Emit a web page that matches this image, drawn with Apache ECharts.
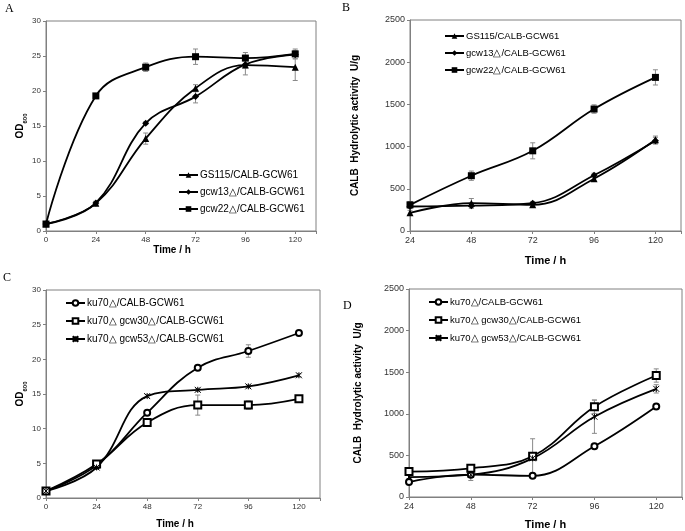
<!DOCTYPE html>
<html><head><meta charset="utf-8">
<script src="https://cdn.jsdelivr.net/npm/echarts@6/dist/echarts.min.js"></script>
<style>html,body{margin:0;padding:0;background:#fff}#c{width:685px;height:531px}</style>
</head><body><div id="c"></div>
<script>
// ---- data ----
const hoursOD = [0, 24, 48, 72, 96, 120];
const hoursAct = [24, 48, 72, 96, 120];
const namesAB = ['GS115/CALB-GCW61', 'gcw13△/CALB-GCW61', 'gcw22△/CALB-GCW61'];
const namesCD = ['ku70△/CALB-GCW61', 'ku70△ gcw30△/CALB-GCW61', 'ku70△ gcw53△/CALB-GCW61'];
const xTicks = [0, 24, 48, 72, 96, 120];

// Panel A (OD600)
const gs115OD = [1.0, 3.95, 13.2, 20.4, 23.7, 23.4];
const gs115ODErr = [0, 0.3, 0.8, 0.5, 1.4, 1.9];
const gcw13OD = [1.0, 4.0, 15.4, 19.2, 23.8, 25.2];
const gcw13ODErr = [0, 0.2, 0.2, 0.9, 0.5, 0.6];
const gcw22OD = [1.0, 19.3, 23.4, 24.9, 24.7, 25.3];
const gcw22ODErr = [0, 0.2, 0.6, 1.1, 0.8, 0.7];

// Panel B (activity U/g)
const gs115Act = [215, 330, 310, 620, 1080];
const gs115ActErr = [30, 55, 20, 30, 45];
const gcw13Act = [290, 300, 330, 660, 1070];
const gcw13ActErr = [20, 30, 20, 25, 40];
const gcw22Act = [310, 655, 950, 1445, 1820];
const gcw22ActErr = [40, 55, 95, 50, 90];

// Panel C (OD600)
const ku70OD = [1.0, 4.7, 12.3, 18.8, 21.2, 23.8];
const ku70ODErr = [0, 0.2, 0.3, 0.3, 0.9, 0.2];
const gcw30OD = [1.0, 4.9, 10.9, 13.4, 13.4, 14.3];
const gcw30ODErr = [0, 0.2, 0.2, 1.45, 0.6, 0.3];
const gcw53OD = [1.0, 4.4, 14.7, 15.6, 16.1, 17.7];
const gcw53ODErr = [0, 0.2, 0.2, 0.2, 0.2, 0.2];

// Panel D (activity U/g)
const ku70Act = [180, 268, 255, 610, 1088];
const ku70ActErr = [20, 20, 20, 20, 20];
const gcw30Act = [305, 345, 490, 1085, 1460];
const gcw30ActErr = [20, 20, 30, 80, 80];
const gcw53Act = [240, 268, 465, 965, 1300];
const gcw53ActErr = [20, 70, 235, 200, 50];

// ---- helpers ----
const FONT = 'Liberation Sans';
const AXC = '#808080';
const STAR = 'path://M0,0L10,10M10,0L0,10M5,0L5,10';

function xAxis(gi, min, max, fs, nfs, gap, pad) {
  return {
    type: 'value', gridIndex: gi, min: min, max: max, interval: 24,
    name: 'Time / h', nameLocation: 'middle', nameGap: gap,
    nameTextStyle: {fontFamily: FONT, fontWeight: 'bold', fontSize: nfs, color: '#000', padding: pad},
    axisLine: {lineStyle: {color: AXC, width: 1}},
    axisTick: {show: true, length: 3, lineStyle: {color: AXC}},
    axisLabel: {fontFamily: FONT, fontSize: fs, color: '#333', margin: 5,
      formatter: v => (xTicks.indexOf(v) >= 0 ? String(v) : '')},
    splitLine: {show: false}
  };
}
function yAxis(gi, max, interval, fs, name, nfs, gap) {
  return {
    type: 'value', gridIndex: gi, min: 0, max: max, interval: interval,
    name: name, nameLocation: 'middle', nameGap: gap,
    nameTextStyle: {fontFamily: FONT, fontWeight: 'bold', fontSize: nfs, color: '#000',
      rich: {b: {fontFamily: FONT, fontWeight: 'bold', fontSize: nfs, color: '#000'},
             s: {fontFamily: FONT, fontWeight: 'bold', fontSize: nfs * 0.6, color: '#000', verticalAlign: 'bottom', padding: [0, 0, -3, 0]}}},
    axisLine: {show: true, lineStyle: {color: AXC, width: 1}},
    axisTick: {show: true, length: 3, lineStyle: {color: AXC}},
    axisLabel: {fontFamily: FONT, fontSize: fs, color: '#333', margin: 5, formatter: v => String(v)},
    splitLine: {show: false}
  };
}
function line(name, xi, xs, ys, symbol, size) {
  const empty = symbol.indexOf('empty') === 0 || symbol === STAR;
  return {
    type: 'line', name: name, xAxisIndex: xi, yAxisIndex: xi,
    data: xs.map((x, i) => [x, ys[i]]), smooth: 0.4,
    symbol: symbol, symbolSize: size,
    lineStyle: {color: '#000', width: 1.8},
    itemStyle: empty ? {color: '#000', borderColor: '#000', borderWidth: 1} : {color: '#000'},
    z: 3
  };
}
function errs(xi, xs, ys, es) {
  const d = [];
  xs.forEach((x, i) => { if (es[i] > 0) d.push([x, ys[i] - es[i], ys[i] + es[i]]); });
  return {
    type: 'custom', xAxisIndex: xi, yAxisIndex: xi, silent: true, z: 2, data: d,
    encode: {x: 0, y: [1, 2]},
    renderItem: (p, api) => {
      const lo = api.coord([api.value(0), api.value(1)]);
      const hi = api.coord([api.value(0), api.value(2)]);
      const w = 2.5, st = {stroke: '#8a8a8a', lineWidth: 1};
      return {type: 'group', children: [
        {type: 'line', shape: {x1: lo[0], y1: lo[1], x2: hi[0], y2: hi[1]}, style: st},
        {type: 'line', shape: {x1: lo[0] - w, y1: lo[1], x2: lo[0] + w, y2: lo[1]}, style: st},
        {type: 'line', shape: {x1: hi[0] - w, y1: hi[1], x2: hi[0] + w, y2: hi[1]}, style: st}
      ]};
    }
  };
}
function legend(left, top, names, fs, gap) {
  return {orient: 'vertical', left: left, top: top, padding: 0, itemGap: gap,
    itemWidth: 19, itemHeight: 7, data: names, selectedMode: false,
    textStyle: {fontFamily: FONT, fontSize: fs, color: '#000', padding: [0, 0, 0, -3]}};
}

const grids = [
  {left: 46, top: 21, width: 270, height: 210},
  {left: 410, top: 20, width: 271, height: 211},
  {left: 46, top: 290, width: 274, height: 208},
  {left: 409, top: 289, width: 274, height: 208}
].map(g => Object.assign(g, {show: true, borderColor: AXC, borderWidth: 1, backgroundColor: 'transparent'}));

const option = {
  animation: false,
  backgroundColor: '#fff',
  grid: grids,
  xAxis: [
    xAxis(0, 0, 130, 8, 10, 11, [0, 18, 0, 0]),
    xAxis(1, 24, 130, 9, 11, 24, [0, 0, 0, 0]),
    xAxis(2, 0, 130, 8, 10, 21, [0, 16, 0, 0]),
    xAxis(3, 24, 130, 9, 11, 22, [0, 0, 0, 0])
  ],
  yAxis: [
    yAxis(0, 30, 5, 8, '{b|OD}{s|600}', 10, 20),
    yAxis(1, 2500, 500, 9, 'CALB  Hydrolytic activity  U/g', 10, 50),
    yAxis(2, 30, 5, 8, '{b|OD}{s|600}', 10, 20),
    yAxis(3, 2500, 500, 9, 'CALB  Hydrolytic activity  U/g', 10, 46)
  ],
  legend: [
    legend(178, 170, namesAB, 10, 7),
    legend(444, 31, namesAB, 9.5, 7),
    legend(65, 298, namesCD, 10, 8),
    legend(428, 297, namesCD, 9.5, 8)
  ],
  series: [
    errs(0, hoursOD, gs115OD, gs115ODErr),
    errs(0, hoursOD, gcw13OD, gcw13ODErr),
    errs(0, hoursOD, gcw22OD, gcw22ODErr),
    line(namesAB[0], 0, hoursOD, gs115OD, 'triangle', 7),
    line(namesAB[1], 0, hoursOD, gcw13OD, 'diamond', 7),
    line(namesAB[2], 0, hoursOD, gcw22OD, 'rect', 7),

    errs(1, hoursAct, gs115Act, gs115ActErr),
    errs(1, hoursAct, gcw13Act, gcw13ActErr),
    errs(1, hoursAct, gcw22Act, gcw22ActErr),
    line(namesAB[0], 1, hoursAct, gs115Act, 'triangle', 7),
    line(namesAB[1], 1, hoursAct, gcw13Act, 'diamond', 7),
    line(namesAB[2], 1, hoursAct, gcw22Act, 'rect', 7),

    errs(2, hoursOD, ku70OD, ku70ODErr),
    errs(2, hoursOD, gcw30OD, gcw30ODErr),
    errs(2, hoursOD, gcw53OD, gcw53ODErr),
    line(namesCD[0], 2, hoursOD, ku70OD, 'emptyCircle', 6),
    line(namesCD[1], 2, hoursOD, gcw30OD, 'emptyRect', 7),
    line(namesCD[2], 2, hoursOD, gcw53OD, STAR, 6),

    errs(3, hoursAct, ku70Act, ku70ActErr),
    errs(3, hoursAct, gcw30Act, gcw30ActErr),
    errs(3, hoursAct, gcw53Act, gcw53ActErr),
    line(namesCD[0], 3, hoursAct, ku70Act, 'emptyCircle', 6),
    line(namesCD[1], 3, hoursAct, gcw30Act, 'emptyRect', 7),
    line(namesCD[2], 3, hoursAct, gcw53Act, STAR, 6)
  ],
  graphic: [
    {type: 'text', left: 5, top: 3, style: {text: 'A', font: '12px "Liberation Serif"', fill: '#000'}},
    {type: 'text', left: 342, top: 2, style: {text: 'B', font: '12px "Liberation Serif"', fill: '#000'}},
    {type: 'text', left: 3, top: 272, style: {text: 'C', font: '12px "Liberation Serif"', fill: '#000'}},
    {type: 'text', left: 343, top: 300, style: {text: 'D', font: '12px "Liberation Serif"', fill: '#000'}}
  ]
};
const chart = echarts.init(document.getElementById('c'), null, {renderer: 'canvas'});
chart.setOption(option);
</script></body></html>
